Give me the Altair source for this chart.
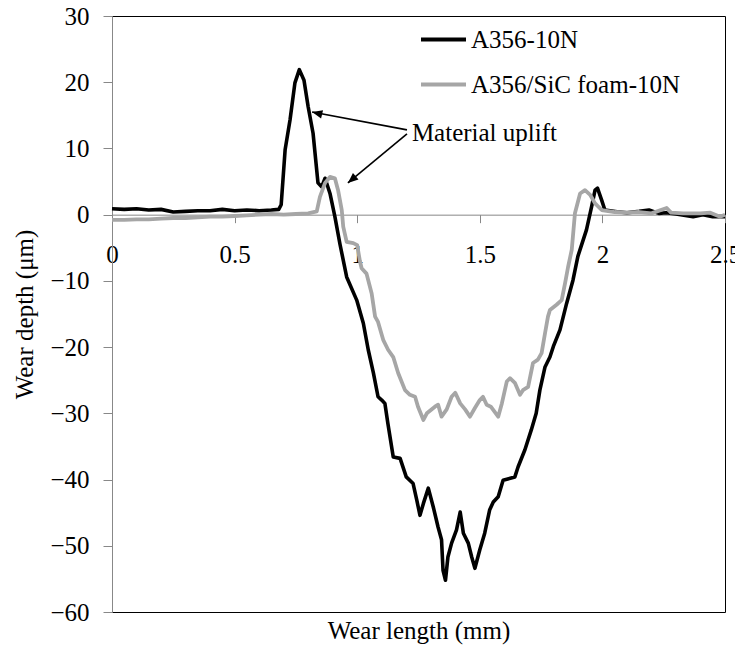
import altair as alt
import pandas as pd

# ---- data ----
series_names = ["A356-10N", "A356/SiC foam-10N"]
series_colors = ["#000000", "#a6a6a6"]

black_x = [0.00, 0.05, 0.10, 0.15, 0.20, 0.25, 0.30, 0.35, 0.40, 0.45, 0.50, 0.55, 0.60, 0.65, 0.68,
           0.69, 0.706, 0.726, 0.746, 0.764, 0.783, 0.80, 0.82, 0.84, 0.855, 0.869, 0.889, 0.909,
           0.93, 0.957, 0.998, 1.025, 1.045, 1.066, 1.085, 1.10, 1.113, 1.125, 1.147, 1.175, 1.20,
           1.228, 1.243, 1.256, 1.27, 1.29, 1.31, 1.33, 1.344, 1.35, 1.36, 1.37, 1.385, 1.405, 1.42,
           1.433, 1.453, 1.467, 1.48, 1.50, 1.52, 1.54, 1.555, 1.575, 1.595, 1.643, 1.656, 1.684,
           1.71, 1.73, 1.745, 1.766, 1.786, 1.80, 1.827, 1.854, 1.88, 1.90, 1.935, 1.956, 1.97,
           1.98, 1.997, 2.01, 2.06, 2.10, 2.15, 2.19, 2.23, 2.26, 2.30, 2.37, 2.41, 2.45, 2.50]
black_y = [0.9, 0.8, 0.9, 0.7, 0.8, 0.4, 0.5, 0.6, 0.6, 0.8, 0.6, 0.7, 0.6, 0.7, 0.8,
           1.5, 9.8, 14.3, 19.9, 21.9, 20.3, 16.3, 12.3, 4.8, 4.2, 5.5, 3.2, -0.3,
           -4.5, -9.4, -12.9, -16.4, -20.4, -23.9, -27.5, -28.0, -28.5, -31.5, -36.6, -36.8, -39.6,
           -40.6, -43.1, -45.4, -43.6, -41.3, -44.1, -47.2, -49.1, -53.7, -55.2, -51.7, -49.6, -47.6, -44.9,
           -48.1, -49.6, -51.7, -53.4, -50.6, -48.1, -44.6, -43.4, -42.6, -40.1, -39.6, -38.1, -35.5,
           -32.5, -30.0, -26.5, -23.0, -21.5, -19.9, -17.4, -13.4, -9.9, -6.3, -2.3, 1.2, 3.7,
           4.0, 2.2, 0.7, 0.45, 0.3, 0.5, 0.7, 0.2, 0.3, 0.1, -0.3, 0.0, -0.3, -0.3]

gray_x = [0.00, 0.05, 0.10, 0.15, 0.20, 0.25, 0.30, 0.35, 0.40, 0.45, 0.50, 0.55, 0.60, 0.65, 0.70,
          0.75, 0.80, 0.835, 0.848, 0.869, 0.889, 0.909, 0.922, 0.937, 0.943, 0.957, 0.984, 1.00,
          1.011, 1.018, 1.038, 1.059, 1.073, 1.085, 1.106, 1.126, 1.147, 1.167, 1.195, 1.215, 1.236,
          1.248, 1.27, 1.284, 1.317, 1.33, 1.344, 1.365, 1.385, 1.40, 1.42, 1.44, 1.46, 1.48, 1.50,
          1.513, 1.528, 1.545, 1.575, 1.59, 1.61, 1.623, 1.643, 1.664, 1.676, 1.697, 1.717, 1.737,
          1.752, 1.766, 1.778, 1.786, 1.813, 1.834, 1.848, 1.86, 1.875, 1.888, 1.909, 1.929, 1.95,
          1.97, 1.997, 2.05, 2.10, 2.15, 2.20, 2.262, 2.28, 2.33, 2.40, 2.44, 2.48, 2.50]
gray_y = [-0.8, -0.8, -0.7, -0.7, -0.6, -0.5, -0.5, -0.4, -0.3, -0.3, -0.2, -0.1, 0.0, 0.1, 0.0,
          0.1, 0.2, 0.5, 2.7, 4.8, 5.7, 5.5, 3.7, 0.7, -1.8, -4.1, -4.3, -4.6,
          -7.0, -8.1, -8.9, -11.9, -15.4, -16.2, -18.9, -20.4, -21.5, -23.9, -26.5, -27.2, -27.5,
          -29.0, -31.0, -30.0, -29.0, -28.7, -30.5, -29.4, -27.5, -26.9, -28.5, -29.4, -30.5, -29.2, -28.0,
          -27.5, -28.7, -29.0, -30.5, -28.5, -25.2, -24.7, -25.4, -27.2, -26.5, -26.0, -22.4, -21.9,
          -20.9, -17.9, -15.4, -14.4, -13.6, -12.9, -10.3, -7.9, -5.3, 0.2, 3.2, 3.7, 3.0,
          1.7, 0.7, 0.4, 0.3, 0.4, 0.2, 1.0, 0.3, 0.2, 0.2, 0.3, -0.3, 0.0]

x_ticks = [0, 0.5, 1, 1.5, 2, 2.5]
y_ticks = [30, 20, 10, 0, -10, -20, -30, -40, -50, -60]
x_domain = [0, 2.5]
y_domain = [-60, 30]

# annotation "Material uplift"
note_text = ["Material uplift"]
note_x = [1.223]
note_y = [12.4]
arrow_tail_x = [1.203, 1.203]
arrow_tail_y = [12.8, 12.2]
arrow_head_x = [0.816, 0.962]
arrow_head_y = [15.5, 4.8]
arrow_angle = [283, 230]

# ---- layout ----
W, H = 613, 596
FONT = "Liberation Serif"
zero_px = H * (y_domain[1] - 0) / (y_domain[1] - y_domain[0])
lift = H - zero_px  # distance from bottom edge up to the zero line

df_black = pd.DataFrame({"x": black_x, "y": black_y, "s": series_names[0]})
df_gray = pd.DataFrame({"x": gray_x, "y": gray_y, "s": series_names[1]})
df_arrow = pd.DataFrame({"x1": arrow_tail_x, "y1": arrow_tail_y,
                         "x2": arrow_head_x, "y2": arrow_head_y, "a": arrow_angle})
df_note = pd.DataFrame({"x": note_x, "y": note_y, "t": note_text})

xs = alt.Scale(domain=x_domain, nice=False, zero=False)
ys = alt.Scale(domain=y_domain, nice=False, zero=False)

color = alt.Color(
    "s:N",
    scale=alt.Scale(domain=series_names, range=series_colors),
    legend=alt.Legend(
        orient="none", legendX=307, legendY=-1, title=None,
        symbolType="stroke", symbolSize=2025, symbolStrokeWidth=4,
        labelFont=FONT, labelFontSize=25, labelColor="black", labelOffset=3,
        rowPadding=7, padding=0, labelLimit=400,
    ),
)

x_axis = alt.Axis(
    values=x_ticks, format="~g", offset=-lift, title="Wear length (mm)",
    titleY=lift + 18.5, titleBaseline="middle", titleAnchor="middle",
    tickSize=8, labelPadding=20, labelFlush=False, labelOverlap=False,
    domainColor="#888888", tickColor="#888888",
)
y_axis = alt.Axis(
    values=y_ticks, title="Wear depth (\u03bcm)", tickSize=9, labelPadding=14,
    titleX=-87.5, titleY=H / 2, titleAngle=270, titleBaseline="middle", titleAlign="center",
    domainColor="#888888", tickColor="#888888",
)

black_line = alt.Chart(df_black).mark_line(strokeWidth=3.6, strokeJoin="round").encode(
    x=alt.X("x:Q", scale=xs, axis=x_axis),
    y=alt.Y("y:Q", scale=ys, axis=y_axis),
    color=color,
)
gray_line = alt.Chart(df_gray).mark_line(strokeWidth=3.8, strokeJoin="round").encode(
    x=alt.X("x:Q", scale=xs, axis=x_axis),
    y=alt.Y("y:Q", scale=ys, axis=y_axis),
    color=color,
)
arrow_rules = alt.Chart(df_arrow).mark_rule(strokeWidth=1.6, color="black").encode(
    x=alt.X("x1:Q", scale=xs, axis=x_axis),
    y=alt.Y("y1:Q", scale=ys, axis=y_axis),
    x2="x2:Q", y2="y2:Q",
)
arrow_heads = alt.Chart(df_arrow).mark_point(
    shape="M0,0L-0.42,1L0.42,1Z", filled=True, size=420, color="black", opacity=1,
).encode(
    x=alt.X("x2:Q", scale=xs, axis=x_axis),
    y=alt.Y("y2:Q", scale=ys, axis=y_axis),
    angle=alt.Angle("a:Q", scale=None),
)
note = alt.Chart(df_note).mark_text(
    align="left", baseline="middle", font=FONT, fontSize=25, color="black",
).encode(
    x=alt.X("x:Q", scale=xs, axis=x_axis),
    y=alt.Y("y:Q", scale=ys, axis=y_axis),
    text="t:N",
)

chart = alt.layer(black_line, gray_line, arrow_rules, arrow_heads, note).properties(
    width=W, height=H,
    autosize=alt.AutoSizeParams(type="none"),
    padding={"left": 104, "top": 8, "right": 10, "bottom": 37},
    background="white",
).configure_view(
    stroke="black", strokeWidth=1,
).configure_axis(
    grid=False, labelFont=FONT, labelFontSize=25, labelColor="black",
    titleFont=FONT, titleFontSize=25, titleFontWeight="normal", titleColor="black",
)

chart.save("out.html", embed_options={"renderer": "svg", "actions": False})
